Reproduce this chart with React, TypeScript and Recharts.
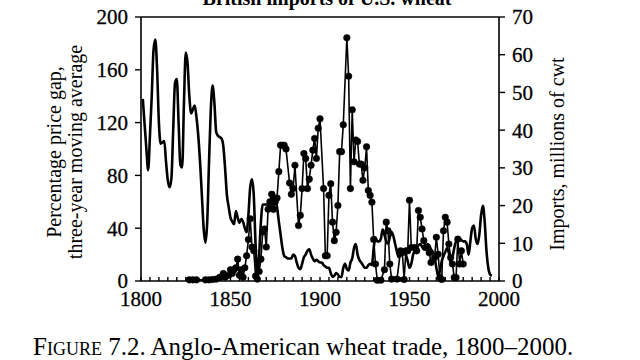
// Anglo-American wheat trade, 1800–2000: price gap (left axis) vs British imports of U.S. wheat (right axis).
import React from 'react';
import { LineChart, Line, XAxis, YAxis, ReferenceLine } from 'recharts';

const INK = '#000';
const SERIF = '"Liberation Serif", "DejaVu Serif", serif';

// Percentage price gap, three-year moving average
const priceYears = [
  1801, 1803, 1804, 1805, 1806, 1807, 1808, 1809, 1810, 1811, 1812, 1813, 1814, 1815, 1816, 1817,
  1818, 1819, 1820, 1821, 1822, 1823, 1824, 1825, 1826, 1827, 1828, 1829, 1830, 1831, 1832, 1833,
  1834, 1835, 1836, 1837, 1838, 1839, 1840, 1841, 1842, 1843, 1844, 1845, 1846, 1847, 1848, 1849,
  1850, 1851, 1852, 1853, 1854, 1855, 1856, 1857, 1858, 1859, 1860, 1861, 1862, 1863, 1864, 1865,
  1866, 1867, 1868, 1869, 1870, 1871, 1872, 1873, 1874, 1875, 1876, 1877, 1878, 1879, 1880, 1881,
  1882, 1883, 1884, 1885, 1886, 1887, 1888, 1889, 1890, 1891, 1892, 1893, 1894, 1895, 1896, 1897,
  1898, 1899, 1900, 1901, 1902, 1903, 1904, 1905, 1906, 1907, 1908, 1909, 1910, 1911, 1912, 1913,
  1914, 1915, 1916, 1917, 1918, 1919, 1920, 1921, 1922, 1923, 1924, 1925, 1926, 1927, 1928, 1929,
  1930, 1931, 1932, 1933, 1934, 1935, 1936, 1937, 1938, 1939, 1940, 1941, 1942, 1943, 1944, 1945,
  1946, 1947, 1948, 1949, 1950, 1951, 1952, 1953, 1954, 1955, 1956, 1957, 1958, 1959, 1960, 1961,
  1962, 1963, 1964, 1965, 1966, 1967, 1968, 1969, 1970, 1971, 1972, 1973, 1974, 1975, 1976, 1977,
  1978, 1979, 1980, 1981, 1982, 1983, 1984, 1985, 1986, 1987, 1988, 1989, 1990, 1991, 1992, 1993,
  1994, 1995, 1996,
];
const priceGap = [
  138, 100, 84, 110, 140, 175, 183, 160, 120, 104, 105, 106, 90, 76, 71, 78,
  115, 150, 153, 120, 88, 86, 135, 173, 165, 140, 127, 130, 133, 124, 110, 90,
  65, 40, 29, 45, 90, 130, 148, 135, 113, 110, 109, 108, 102, 85, 65, 56,
  48, 45, 43, 53, 48, 44, 47, 45, 40, 37, 50, 71, 77, 65, 28, 3,
  20, 45, 58, 58, 58, 57, 55, 58, 67, 62, 56, 45, 35, 25, 19, 18,
  17, 17, 17, 20, 19, 14, 10, 9, 13, 18, 20, 23, 24, 20, 17, 15,
  16, 15, 14, 14, 12, 11, 10, 10, 6, 3, 4, 6, 5, 3, 3, 10,
  13, 9, 8, 14, 17, 25, 28, 20, 16, 14, 12, 10, 10, 12, 13, 12,
  25, 33, 30, 30, 32, 39, 35, 30, 28, 33, 37, 34, 28, 22, 18, 19,
  21, 23, 20, 15, 10, 13, 20, 23, 25, 27, 28, 26, 24, 25, 28, 27,
  24, 22, 18, 10, 4, 8, 15, 19, 22, 25, 21, 14, 18, 25, 30, 31,
  32, 31, 30, 30, 28, 20, 30, 40, 42, 32, 28, 35, 50, 57, 45, 23,
  10, 5, 4,
];

// British imports of U.S. wheat, millions of cwt
const importYears = [
  1827, 1829, 1831, 1836, 1838, 1840, 1842, 1844, 1846, 1847, 1849, 1850, 1851, 1852, 1853, 1854,
  1855, 1856, 1857, 1858, 1859, 1860, 1861, 1862, 1863, 1864, 1865, 1866, 1867, 1868, 1869, 1870,
  1871, 1872, 1873, 1874, 1875, 1876, 1877, 1878, 1879, 1880, 1881, 1883, 1884, 1885, 1886, 1888,
  1889, 1890, 1891, 1892, 1893, 1894, 1895, 1896, 1897, 1898, 1899, 1900, 1902, 1903, 1904, 1905,
  1906, 1907, 1908, 1909, 1910, 1911, 1912, 1913, 1915, 1916, 1917, 1918, 1919, 1920, 1921, 1922,
  1923, 1924, 1925, 1926, 1927, 1928, 1929, 1930, 1931, 1932, 1934, 1936, 1937, 1938, 1939, 1940,
  1943, 1945, 1946, 1947, 1948, 1949, 1950, 1951, 1953, 1954, 1955, 1956, 1957, 1958, 1959, 1960,
  1961, 1962, 1964, 1965, 1966, 1967, 1968, 1969, 1970, 1971, 1972, 1973, 1974, 1975, 1976, 1977,
  1978, 1979, 1980,
];
const imports = [
  0.3, 0.3, 0.3, 0.3, 0.3, 0.4, 0.5, 1.0, 2.0, 1.0, 1.5, 3.0, 2.0, 3.0, 3.5, 5.8,
  1.5, 3.0, 1.0, 3.5, 6.7, 11, 16.5, 9, 8, 1.3, 0.5, 2.5, 5.8, 13, 13.8, 9,
  19, 21, 23, 19, 21, 22, 29, 36, 36, 36, 35, 26, 23, 24.5, 30.7, 14.7,
  17.4, 24.5, 33.8, 32.5, 24.5, 27, 30.7, 34.7, 37.8, 32.5, 40.5, 43, 24.5, 6.7, 6.7, 22.7,
  25.8, 15.6, 10.7, 12.9, 20, 34.3, 34.3, 41.4, 64.5, 54.3, 24.5, 45.4, 31.6, 37.4, 37, 31,
  31, 26.7, 30, 35.6, 24, 22.7, 20.9, 11, 4.5, 0.2, 0.2, 3, 15.6, 13.3, 4.5, 0.5,
  0.5, 8, 7.5, 0.4, 8, 8, 21.4, 8.9, 8.9, 8, 18.7, 16.9, 13.8, 10.7, 8.9, 9,
  7.5, 4.9, 6.2, 11.6, 7.1, 0.9, 0.4, 13.3, 16.9, 15.6, 9.8, 6.2, 4.5, 0.9, 0.9, 11.1,
  4.5, 8, 4.5,
];

const xLabels = [1800, 1850, 1900, 1950, 2000];
const xMinorTicks = Array.from({ length: 41 }, (_, i) => 1800 + i * 5);
const leftTicks = [0, 40, 80, 120, 160, 200];
const rightTicks = [0, 10, 20, 30, 40, 50, 60, 70];

const priceData = priceYears.map((year, i) => ({ year, gap: priceGap[i] }));
const importData = importYears.map((year, i) => ({ year, imports: imports[i] }));

const tick = { fontSize: 21, fill: INK, fontFamily: SERIF, stroke: INK, strokeWidth: 0.3 } as const;

export default function App() {
  return (
    <div style={{ position: 'fixed', left: 0, top: 0, width: 640, height: 360, background: '#fff', overflow: 'hidden', fontFamily: SERIF, color: INK }}>
      <div style={{ position: 'absolute', left: 0, width: 654, top: -12, textAlign: 'center', fontSize: 20, lineHeight: '20px', fontWeight: 'bold' }}>
        British imports of U.S. wheat
      </div>

      <LineChart width={640} height={360} margin={{ top: 17, right: 0, bottom: 0, left: 0 }}>
        <XAxis
          xAxisId="yr"
          type="number"
          dataKey="year"
          domain={[1800, 2000]}
          ticks={xMinorTicks}
          interval={0}
          tickFormatter={(v: number) => (xLabels.includes(v) ? String(v) : '')}
          tick={tick}
          tickLine={{ stroke: INK, strokeWidth: 1.4 }}
          tickSize={-4}
          tickMargin={14}
          height={79}
          stroke={INK}
          strokeWidth={1.6}
          allowDataOverflow
        />
        <YAxis
          yAxisId="gap"
          domain={[0, 200]}
          ticks={leftTicks}
          interval={0}
          tick={tick}
          tickLine={{ stroke: INK, strokeWidth: 1.4 }}
          tickSize={6}
          tickMargin={7}
          width={141}
          stroke={INK}
          strokeWidth={1.6}
        />
        <YAxis
          yAxisId="imp"
          orientation="right"
          domain={[0, 70]}
          ticks={rightTicks}
          interval={0}
          tick={{ ...tick, textAnchor: 'start' }}
          tickLine={{ stroke: INK, strokeWidth: 1.4 }}
          tickSize={6}
          tickMargin={7}
          width={141}
          stroke={INK}
          strokeWidth={1.6}
        />
        <ReferenceLine xAxisId="yr" yAxisId="gap" y={200} stroke={INK} strokeWidth={1.6} />
        <Line
          xAxisId="yr"
          yAxisId="gap"
          data={priceData}
          dataKey="gap"
          type="monotone"
          stroke={INK}
          strokeWidth={2.6}
          dot={false}
          isAnimationActive={false}
        />
        <Line
          xAxisId="yr"
          yAxisId="imp"
          data={importData}
          dataKey="imports"
          type="linear"
          stroke={INK}
          strokeWidth={1.6}
          dot={{ r: 3.3, fill: INK, stroke: INK, strokeWidth: 0.5 }}
          isAnimationActive={false}
        />
      </LineChart>

      <div style={{ position: 'absolute', left: 65, top: 152, width: 270, transform: 'translate(-50%, -50%) rotate(-90deg)', textAlign: 'center', fontSize: 20, lineHeight: '21px', whiteSpace: 'nowrap' }}>
        Percentage price gap,<br />three-year moving average
      </div>
      <div style={{ position: 'absolute', left: 557, top: 154, width: 260, transform: 'translate(-50%, -50%) rotate(-90deg)', textAlign: 'center', fontSize: 20, lineHeight: '21px', whiteSpace: 'nowrap' }}>
        Imports, millions of cwt
      </div>

      <div style={{ position: 'absolute', left: 33, top: 334, fontSize: 25, lineHeight: '25px', whiteSpace: 'nowrap' }}>
        <span style={{ fontVariant: 'small-caps' }}>Figure</span> 7.2. Anglo-American wheat trade, 1800–2000.
      </div>
    </div>
  );
}
